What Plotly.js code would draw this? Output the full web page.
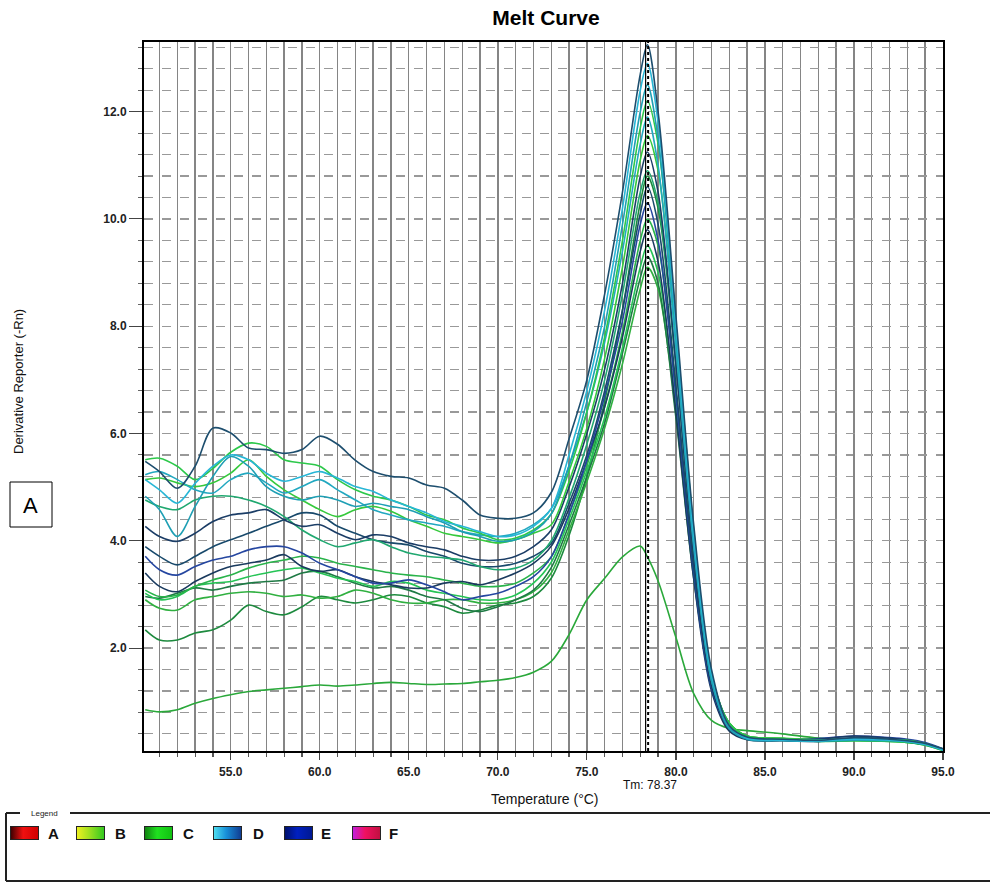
<!DOCTYPE html>
<html><head><meta charset="utf-8">
<script src="https://cdn.plot.ly/plotly-3.0.1.min.js"></script>
<style>body{margin:0;background:#fff}#chart{width:990px;height:884px}</style>
</head><body><div id="chart"></div><script>
// ---------- data ----------
const temperature = [50.2,51,52,53,54,55,56,57,58,59,60,61,62,63,64,65,66,67,68,69,70,71,72,
  73,74,75,76,77,78,78.4,79,80,81,82,83, 84,86,88,90,92,93,94,95];

const curveA = [5.48,5.29,4.98,5.39,6.10,6.01,5.73,5.70,5.63,5.70,5.95,5.80,5.50,5.29,5.20,5.17,5.04,4.98,4.76,4.48,4.42,4.42,4.52,
  4.9,5.9,7.0,8.6,10.5,12.7,13.25,12.0,8.2,4.3,1.6,0.55, 0.34,0.30,0.28,0.33,0.30,0.27,0.22,0.12];
const curveB = [5.51,5.54,5.39,5.14,5.35,5.65,5.82,5.76,5.51,5.45,5.39,5.14,4.95,4.83,4.76,4.64,4.48,4.39,4.24,4.14,4.02,4.05,4.20,
  4.5,5.3,6.4,7.8,9.6,11.7,12.2,11.4,8.0,4.2,1.5,0.6, 0.36,0.31,0.27,0.28,0.27,0.24,0.20,0.10];
const curveC = [5.14,4.95,4.70,5.07,5.39,5.60,5.51,5.26,5.11,5.20,5.29,5.17,5.01,4.92,4.76,4.64,4.52,4.36,4.27,4.17,4.08,4.11,4.27,
  4.6,5.6,6.8,8.3,10.2,12.4,12.9,11.8,8.0,4.1,1.5,0.55, 0.32,0.28,0.27,0.30,0.28,0.26,0.20,0.10];
const curveD = [4.83,4.58,4.08,4.64,5.20,5.57,5.39,5.01,4.83,4.76,4.83,4.76,4.64,4.70,4.64,4.58,4.45,4.33,4.17,4.08,3.99,4.02,4.17,
  4.5,5.4,6.6,8.0,9.9,12.0,12.5,11.5,7.9,4.0,1.4,0.5, 0.30,0.27,0.26,0.28,0.27,0.25,0.20,0.10];
const curveE = [5.14,5.17,5.08,5.01,5.08,5.26,5.51,5.20,4.95,4.76,4.58,4.45,4.58,4.64,4.55,4.39,4.27,4.14,4.08,4.02,3.96,4.02,4.14,
  4.3,5.1,6.1,7.4,9.1,11.1,11.55,10.9,7.7,4.0,1.45,0.6, 0.36,0.32,0.29,0.30,0.29,0.28,0.22,0.11];
const curveF = [4.27,4.08,3.99,4.14,4.36,4.48,4.52,4.58,4.39,4.27,4.30,4.14,4.02,4.11,4.08,3.96,3.89,3.83,3.71,3.64,3.64,3.71,3.89,
  4.2,5.0,6.0,7.2,8.8,10.8,11.25,10.5,7.3,3.7,1.3,0.5, 0.30,0.28,0.30,0.36,0.32,0.28,0.22,0.11];
const curveG = [3.89,3.71,3.55,3.71,3.89,4.02,4.14,4.27,4.39,4.52,4.48,4.27,4.14,4.02,3.96,3.92,3.80,3.71,3.58,3.52,3.52,3.58,3.71,
  3.95,4.7,5.6,6.8,8.3,10.1,10.6,9.9,6.9,3.5,1.3,0.5, 0.31,0.28,0.27,0.32,0.30,0.27,0.21,0.11];
const curveH = [3.40,3.15,3.05,3.24,3.40,3.52,3.58,3.64,3.74,3.52,3.43,3.46,3.33,3.24,3.18,3.12,3.12,3.21,3.24,3.18,3.27,3.40,3.58,
  3.9,4.6,5.5,6.5,7.8,9.4,9.8,9.2,6.4,3.3,1.2,0.45, 0.29,0.27,0.26,0.29,0.28,0.25,0.20,0.10];
const curveI = [3.08,2.96,2.99,3.15,3.27,3.36,3.49,3.58,3.64,3.71,3.68,3.58,3.52,3.46,3.40,3.36,3.33,3.27,3.21,3.15,3.15,3.21,3.40,
  3.7,4.5,5.4,6.5,7.9,9.6,10.0,9.5,6.8,3.6,1.4,0.55, 0.34,0.30,0.27,0.28,0.27,0.25,0.20,0.10];
const curveJ = [3.02,2.90,2.96,3.15,3.21,3.24,3.33,3.40,3.46,3.49,3.40,3.30,3.24,3.15,3.24,3.21,3.08,3.02,2.96,2.90,2.90,2.99,3.21,
  3.6,4.4,5.3,6.3,7.6,9.1,9.5,9.0,6.5,3.5,1.35,0.55, 0.33,0.29,0.26,0.27,0.26,0.24,0.19,0.09];
const curveK = [2.96,2.93,3.02,3.12,3.08,3.15,3.21,3.24,3.27,3.40,3.43,3.33,3.21,3.12,3.15,3.08,2.96,2.90,2.74,2.68,2.77,2.90,3.08,
  3.5,4.3,5.2,6.2,7.5,8.9,9.3,8.8,6.3,3.3,1.3,0.5, 0.31,0.28,0.26,0.28,0.27,0.25,0.20,0.10];
const curveL = [2.90,2.74,2.71,2.90,2.96,3.02,3.05,3.02,2.96,2.99,2.93,2.96,3.08,3.02,2.90,2.84,2.84,2.90,2.90,2.84,2.84,2.90,3.05,
  3.4,4.2,5.1,6.1,7.3,8.7,9.1,8.7,6.4,3.5,1.4,0.6, 0.35,0.30,0.27,0.27,0.26,0.24,0.19,0.09];
const curveM = [2.34,2.15,2.15,2.28,2.34,2.52,2.80,2.68,2.62,2.77,2.96,2.90,2.84,2.90,2.99,2.96,2.84,2.77,2.65,2.71,2.80,2.84,2.96,
  3.3,4.1,5.2,6.6,8.3,10.3,10.8,10.2,7.3,3.9,1.5,0.6, 0.36,0.31,0.28,0.29,0.28,0.26,0.21,0.11];
const curveN = [0.85,0.81,0.85,0.97,1.06,1.13,1.19,1.22,1.25,1.28,1.31,1.29,1.31,1.34,1.36,1.34,1.32,1.33,1.34,1.37,1.40,1.45,1.55,
  1.75,2.25,2.9,3.3,3.7,3.9,3.7,3.25,2.2,1.15,0.65,0.5, 0.46,0.40,0.32,0.30,0.27,0.25,0.20,0.12];
const curveO = [5.23,5.29,5.14,4.95,4.89,5.14,5.26,5.08,4.89,5.01,5.14,4.95,4.76,4.58,4.48,4.39,4.33,4.27,4.17,4.11,4.08,4.14,4.30,
  4.6,5.4,6.4,7.7,9.4,11.4,11.9,11.0,7.6,3.9,1.4,0.5, 0.31,0.29,0.28,0.31,0.29,0.27,0.21,0.10];
const curveP = [4.76,4.64,4.58,4.76,4.83,4.83,4.76,4.64,4.45,4.20,4.02,3.89,3.96,4.02,3.89,3.77,3.71,3.68,3.64,3.52,3.46,3.49,3.64,
  4.0,4.8,5.8,7.0,8.6,10.5,10.9,10.3,7.3,3.8,1.45,0.6, 0.35,0.30,0.27,0.29,0.28,0.26,0.21,0.10];
const curveQ = [3.71,3.46,3.36,3.52,3.64,3.71,3.83,3.89,3.89,3.77,3.58,3.46,3.33,3.21,3.21,3.27,3.18,3.05,2.90,2.96,3.02,3.15,3.33,
  3.7,4.5,5.5,6.7,8.1,9.9,10.3,9.6,6.7,3.4,1.25,0.5, 0.32,0.30,0.31,0.36,0.33,0.30,0.24,0.12];

const seriesList = [
  {y: curveN, color: '#2aa83a'}, {y: curveM, color: '#1d8a3e'}, {y: curveL, color: '#30b040'},
  {y: curveK, color: '#1f7a45'}, {y: curveJ, color: '#25c455'}, {y: curveI, color: '#29b34a'},
  {y: curveH, color: '#1a3a5e'}, {y: curveQ, color: '#2546a0'}, {y: curveG, color: '#18496b'},
  {y: curveP, color: '#20a870'}, {y: curveF, color: '#1b3d66'}, {y: curveE, color: '#35c93c'},
  {y: curveO, color: '#22a8c0'}, {y: curveB, color: '#2cc84a'}, {y: curveD, color: '#1e9fb4'},
  {y: curveC, color: '#27b6d6'}, {y: curveA, color: '#1d4e6e'}
];

const tickValuesX = [55, 60, 65, 70, 75, 80, 85, 90, 95];
const tickLabelsX = ['55.0', '60.0', '65.0', '70.0', '75.0', '80.0', '85.0', '90.0', '95.0'];
const tickValuesY = [2, 4, 6, 8, 10, 12];
const tickLabelsY = ['2.0', '4.0', '6.0', '8.0', '10.0', '12.0'];
const tmValue = 78.37;
const tmLabel = 'Tm: 78.37';
const legendLabels = ['A', 'B', 'C', 'D', 'E', 'F'];
const legendGradients = [
  ['#3a0000', '#f01010', '#d00000'],
  ['#f0f020', '#a0e020', '#30c820'],
  ['#108010', '#20e020', '#10c010'],
  ['#50e0f0', '#1890d8', '#103a90'],
  ['#00106a', '#0020c0', '#001890'],
  ['#c020e0', '#f01060', '#c01040']
];

// ---------- layout helpers (pixel -> paper) ----------
const L = 144, R = 943, T = 42, B = 751;
const px = x => (x - L) / (R - L);
const py = y => (B - y) / (B - T);

const traces = seriesList.map(s => ({
  x: temperature, y: s.y, type: 'scatter', mode: 'lines',
  line: {color: s.color, width: 1.6, shape: 'spline', smoothing: 0.9},
  hoverinfo: 'skip'
}));

const swX = [10, 76, 144, 213, 284, 352];
const labX = [53, 120, 188, 258, 326, 393];

function gradSvg(c) {
  const svg = `<svg xmlns="http://www.w3.org/2000/svg" width="30" height="14"><defs><linearGradient id="g" x1="0" y1="0" x2="1" y2="0"><stop offset="0" stop-color="${c[0]}"/><stop offset="0.45" stop-color="${c[1]}"/><stop offset="1" stop-color="${c[2]}"/></linearGradient></defs><rect x="0.5" y="0.5" width="29" height="13" fill="url(#g)" stroke="#222" stroke-width="1"/></svg>`;
  return 'data:image/svg+xml;charset=utf-8,' + encodeURIComponent(svg);
}

const images = legendLabels.map((_, i) => ({
  source: gradSvg(legendGradients[i]), xref: 'paper', yref: 'paper',
  x: px(swX[i]), y: py(826), sizex: 29 / (R - L), sizey: 14 / (B - T),
  xanchor: 'left', yanchor: 'top', sizing: 'stretch', layer: 'above'
}));

const ann = (text, x, y, font, extra) => Object.assign({
  text: text, xref: 'paper', yref: 'paper', x: px(x), y: py(y),
  xanchor: 'center', yanchor: 'middle', showarrow: false, font: font
}, extra || {});
const fam = 'Liberation Sans, Arial';

const annotations = [
  ann('Derivative Reporter (-Rn)', 18, 382, {family: fam, size: 13, color: '#111'}, {textangle: -90}),
  ann('Temperature (°C)', 545, 799, {family: fam, size: 14, color: '#111'}),
  ann(tmLabel, 650, 785, {family: fam, size: 12, color: '#111'}),
  ann('A', 31, 505, {family: fam, size: 22, color: '#000'}),
  ann('Legend', 44, 813, {family: fam, size: 8, color: '#222'})
].concat(legendLabels.map((t, i) =>
  ann(t, labX[i], 833, {family: fam, size: 15, weight: 'bold', color: '#111'})));

const shapes = [
  {type: 'line', xref: 'x', yref: 'paper', x0: tmValue - 0.07, x1: tmValue - 0.07, y0: 0, y1: 1,
   line: {color: '#000', width: 1.2}},
  {type: 'line', xref: 'x', yref: 'paper', x0: tmValue + 0.07, x1: tmValue + 0.07, y0: 0, y1: 1,
   line: {color: '#000', width: 2, dash: 'dot'}},
  {type: 'rect', xref: 'paper', yref: 'paper', x0: px(10), x1: px(52), y0: py(527), y1: py(482),
   line: {color: '#000', width: 1}},
  {type: 'line', xref: 'paper', yref: 'paper', x0: px(6), x1: px(6), y0: py(813), y1: py(881), line: {color: '#222', width: 2}},
  {type: 'line', xref: 'paper', yref: 'paper', x0: px(6), x1: px(990), y0: py(881), y1: py(881), line: {color: '#222', width: 2}},
  {type: 'line', xref: 'paper', yref: 'paper', x0: px(6), x1: px(20), y0: py(813), y1: py(813), line: {color: '#222', width: 2}},
  {type: 'line', xref: 'paper', yref: 'paper', x0: px(70), x1: px(990), y0: py(813), y1: py(813), line: {color: '#222', width: 2}}
];

const layout = {
  width: 990, height: 884,
  margin: {l: L, r: 990 - R, t: T, b: 884 - B, pad: 0},
  paper_bgcolor: '#fff', plot_bgcolor: '#fff',
  showlegend: false,
  title: {text: 'Melt Curve', x: 546 / 990, xanchor: 'center', y: 1 - 18 / 884, yanchor: 'middle',
    font: {family: fam, size: 21, weight: 'bold', color: '#000'}},
  xaxis: {
    range: [50.13, 95], tickmode: 'array', tickvals: tickValuesX, ticktext: tickLabelsX,
    ticks: 'outside', ticklen: 7, tickcolor: '#444', tickwidth: 1.2,
    tickfont: {family: fam, size: 12, weight: 'bold', color: '#222'},
    ticklabelstandoff: 2,
    showline: true, linecolor: '#000', linewidth: 2, mirror: true,
    showgrid: true, gridcolor: '#858585', gridwidth: 1.4,
    minor: {dtick: 1, tick0: 0, showgrid: true, gridcolor: '#858585', gridwidth: 1.4, ticks: 'outside', ticklen: 4, tickcolor: '#555'},
    zeroline: false, fixedrange: true
  },
  yaxis: {
    range: [0.08, 13.3], tickmode: 'array', tickvals: tickValuesY, ticktext: tickLabelsY,
    ticks: 'outside', ticklen: 13, tickcolor: '#444', tickwidth: 1,
    tickfont: {family: fam, size: 12, weight: 'bold', color: '#222'},
    showline: true, linecolor: '#000', linewidth: 2, mirror: true,
    showgrid: true, gridcolor: '#999', gridwidth: 1.2, griddash: 'dash',
    minor: {dtick: 0.4, tick0: 0, showgrid: true, gridcolor: '#999', gridwidth: 1.2, griddash: 'dash', ticks: 'outside', ticklen: 4, tickcolor: '#666'},
    zeroline: false, fixedrange: true
  },
  annotations: annotations,
  shapes: shapes,
  images: images
};

Plotly.newPlot('chart', traces, layout, {staticPlot: true, displayModeBar: false});
</script></body></html>
